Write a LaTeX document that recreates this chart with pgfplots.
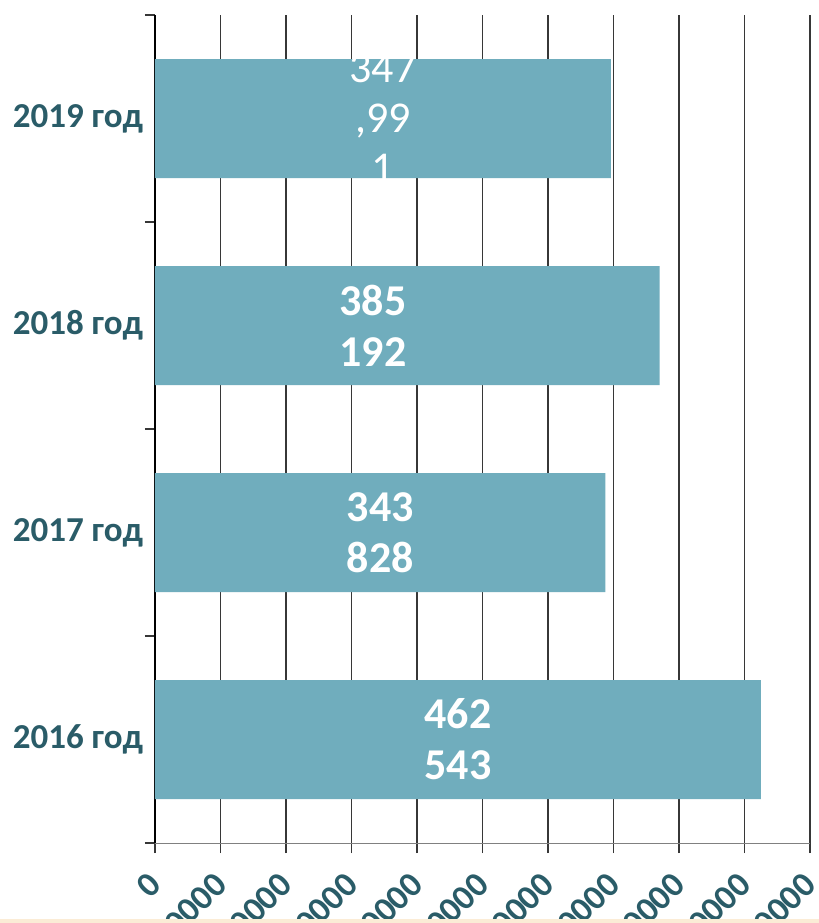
\documentclass[border=0pt]{standalone}
\usepackage{fontspec}
\setmainfont{Carlito}
\usepackage{pgfplots}
\pgfplotsset{compat=1.18}
\definecolor{barc}{RGB}{112,173,189}
\definecolor{labc}{RGB}{42,92,104}
\definecolor{gridc}{RGB}{55,55,55}
\definecolor{stripc}{RGB}{251,236,214}
\begin{document}
\begin{tikzpicture}
\useasboundingbox (0,0) rectangle (409.5pt,461.5pt);
\clip (0,0) rectangle (409.5pt,461.5pt);
\fill[white] (0,0) rectangle (409.5pt,461.5pt);
\begin{axis}[
  at={(77.5pt,40pt)}, anchor=south west,
  scale only axis, width=327.5pt, height=414pt,
  xmin=0, xmax=500000, ymin=-0.5, ymax=3.5,
  xbar, bar width=59.5pt,
  axis x line*=bottom, axis y line*=left,
  scaled x ticks=false,
  xtick={0,50000,100000,150000,200000,250000,300000,350000,400000,450000,500000},
  xticklabels={0,50000,100000,150000,200000,250000,300000,350000,400000,450000,500000},
  ytick={-0.5,0.5,1.5,2.5,3.5}, yticklabels={},
  extra y ticks={0,1,2,3},
  extra y tick labels={2016 год,2017 год,2018 год,2019 год},
  extra y tick style={major tick length=0pt, grid=none},
  tick align=outside, major tick length=5pt,
  tick style={gridc, line width=0.6pt},
  x axis line style={gray, line width=0.5pt},
  y axis line style={black, line width=1pt},
  xmajorgrids, ymajorgrids=false,
  grid style={gridc, line width=0.9pt},
  /pgf/number format/assume math mode=true,
  xticklabel style={font=\fontsize{17.5}{21}\selectfont\bfseries, text=labc, yshift=-10.5pt, xshift=2.5pt, rotate=45, anchor=east},
  yticklabel style={font=\fontsize{17.5}{21}\selectfont\bfseries, text=labc, xshift=-2.5pt},
]
\addplot[fill=barc, draw=none] coordinates {(462543,0) (343828,1) (385192,2) (347991,3)};
\node[align=center, text=white, font=\fontsize{22}{25.6}\selectfont\bfseries] at (axis cs:231271.5,0) {462\\543};
\node[align=center, text=white, font=\fontsize{22}{25.6}\selectfont\bfseries] at (axis cs:171914,1) {343\\828};
\node[align=center, text=white, font=\fontsize{22}{25.6}\selectfont\bfseries] at (axis cs:166400,2) {385\\192};
\node[align=center, text=white, font=\fontsize{22}{25}\selectfont] at (axis cs:173995.5,3) {347\\,99\\1};
\end{axis}
\fill[stripc] (0,0) rectangle (409.5pt,2pt);
\end{tikzpicture}
\end{document}
